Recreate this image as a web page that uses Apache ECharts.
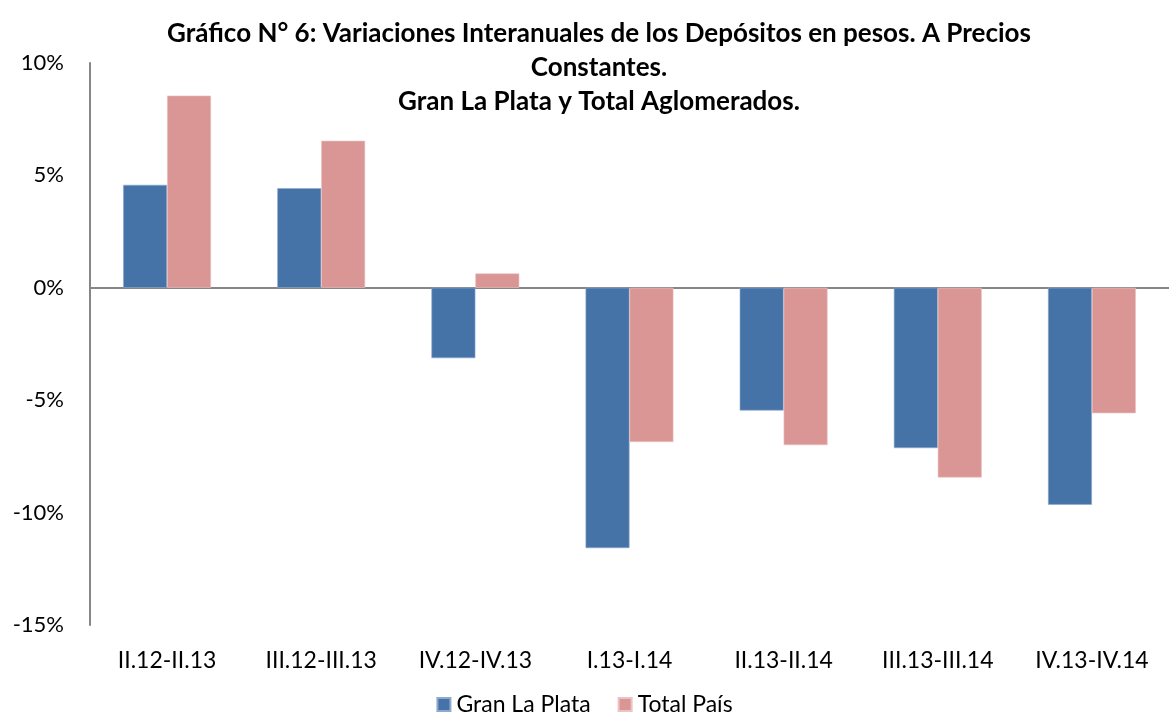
<!DOCTYPE html>
<html>
<head>
<meta charset="utf-8">
<script src="https://cdn.jsdelivr.net/npm/echarts@6/dist/echarts.min.js"></script>
<style>
html, body { margin: 0; padding: 0; background: #fff; }
#chart { width: 1169px; height: 717px; }
</style>
</head>
<body>
<div id="chart"></div>
<script>
var categories = ["II.12-II.13", "III.12-III.13", "IV.12-IV.13", "I.13-I.14", "II.13-II.14", "III.13-III.14", "IV.13-IV.14"];
var granLaPlata = [4.58, 4.43, -3.13, -11.58, -5.46, -7.13, -9.65];
var totalPais = [8.55, 6.54, 0.64, -6.86, -7.0, -8.44, -5.58];
var seriesNames = ["Gran La Plata", "Total País"];
var titleText = "Gráfico N° 6: Variaciones Interanuales de los Depósitos en pesos. A Precios\nConstantes.\nGran La Plata y Total Aglomerados.";

var font = "Lato, 'Liberation Sans', sans-serif";
var chart = echarts.init(document.getElementById("chart"));
chart.setOption({
  animation: false,
  textStyle: { fontFamily: font },
  title: {
    text: titleText,
    left: 594,
    top: 12,
    textAlign: "center",
    textStyle: {
      fontFamily: font,
      fontSize: 26,
      fontWeight: "bold",
      color: "#000",
      lineHeight: 34
    }
  },
  legend: {
    data: seriesNames,
    top: 693,
    left: "center",
    padding: 0,
    icon: "rect",
    itemWidth: 13,
    itemHeight: 13,
    itemGap: 27,
    textStyle: { fontSize: 23, color: "#000", fontFamily: font, padding: [0, 0, 0, 1] }
  },
  grid: {
    left: 90,
    right: -10,
    top: 63,
    bottom: 92
  },
  xAxis: {
    type: "category",
    data: categories,
    axisLine: { onZero: true, lineStyle: { color: "#868686", width: 2 } },
    axisTick: { show: false },
    axisLabel: { show: false }
  },
  yAxis: {
    type: "value",
    min: -15,
    max: 10,
    interval: 5,
    axisLine: { show: true, onZero: false, lineStyle: { color: "#868686", width: 2 } },
    axisTick: { show: false },
    splitLine: { show: false },
    axisLabel: {
      fontSize: 22,
      color: "#000",
      fontFamily: font,
      margin: 26,
      formatter: function (v) { return v + "%"; }
    }
  },
  series: [
    {
      name: seriesNames[0],
      type: "bar",
      data: granLaPlata,
      barGap: "0%",
      barCategoryGap: "43%",
      itemStyle: { color: "#4573A7", borderColor: "#8FA9CC", borderWidth: 0.6 }
    },
    {
      name: seriesNames[1],
      type: "bar",
      data: totalPais,
      itemStyle: { color: "#D99694", borderColor: "#EBC3C2", borderWidth: 0.6 }
    }
  ]
});

// category labels sit below the plot area, not under the zero line
chart.setOption({
  graphic: categories.map(function (c, i) {
    var p = chart.convertToPixel({ xAxisIndex: 0, yAxisIndex: 0 }, [i, -15]);
    return {
      type: "text",
      x: p[0],
      y: p[1] + 36,
      style: {
        text: c,
        font: "23px " + font,
        fill: "#000",
        align: "center",
        verticalAlign: "middle"
      }
    };
  })
});
</script>
</body>
</html>
